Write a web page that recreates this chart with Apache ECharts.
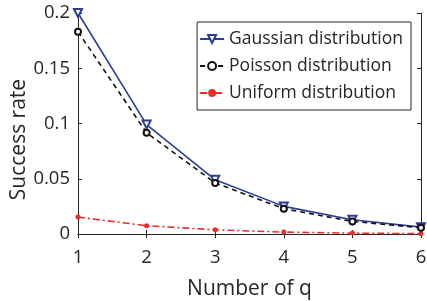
<!DOCTYPE html>
<html>
<head>
<meta charset="utf-8">
<script src="https://cdn.jsdelivr.net/npm/echarts@6/dist/echarts.min.js"></script>
<style>
  html, body { margin: 0; padding: 0; background: #fff; }
  #chart { width: 427px; height: 301px; }
</style>
</head>
<body>
<div id="chart"></div>
<script>
const qValues = [1, 2, 3, 4, 5, 6];
const gaussian = [0.2, 0.099, 0.049, 0.025, 0.0129, 0.0062];
const poisson = [0.183, 0.0916, 0.0462, 0.0229, 0.0114, 0.0056];
const uniform = [0.0153, 0.0075, 0.0038, 0.0017, 0.0008, 0.0003];

const font = 'Open Sans';
const axisColor = '#262626';

const pairs = arr => qValues.map((q, i) => [q, arr[i]]);

const myChart = echarts.init(document.getElementById('chart'));
const option = {
  animation: false,
  grid: { left: 78, right: 6, top: 13, bottom: 67, outerBoundsMode: 'none' },
  legend: {
    right: 16,
    top: 22,
    orient: 'vertical',
    itemWidth: 24,
    itemHeight: 10,
    itemGap: 9,
    padding: [8, 8, 8, 2],
    borderColor: axisColor,
    borderWidth: 1,
    backgroundColor: '#fff',
    textStyle: { fontFamily: font, fontSize: 17.5, color: axisColor },
    data: ['Gaussian distribution', 'Poisson distribution', 'Uniform distribution']
  },
  xAxis: [
    {
      type: 'value', min: 1, max: 6, interval: 1,
      name: 'Number of q', nameLocation: 'middle', nameGap: 45, nameMoveOverlap: false,
      nameTextStyle: { fontFamily: font, fontSize: 21, color: axisColor },
      axisLine: { lineStyle: { color: axisColor } },
      axisTick: { inside: true, length: 4, lineStyle: { color: axisColor } },
      axisLabel: { fontFamily: font, fontSize: 18.5, color: axisColor, margin: 14 },
      splitLine: { show: false }
    },
    {
      type: 'value', min: 1, max: 6, interval: 1, position: 'top',
      axisLine: { lineStyle: { color: axisColor } },
      axisTick: { inside: true, length: 4, lineStyle: { color: axisColor } },
      axisLabel: { show: false },
      splitLine: { show: false }
    }
  ],
  yAxis: [
    {
      type: 'value', min: 0, max: 0.2, interval: 0.05,
      name: 'Success rate', nameLocation: 'middle', nameGap: 48, nameMoveOverlap: false,
      nameTextStyle: { fontFamily: font, fontSize: 21, color: axisColor, padding: [0, 32, 0, 0] },
      axisLine: { show: true, lineStyle: { color: axisColor } },
      axisTick: { show: true, inside: true, length: 4, lineStyle: { color: axisColor } },
      axisLabel: { fontFamily: font, fontSize: 18.5, color: axisColor, margin: 8 },
      splitLine: { show: false }
    },
    {
      type: 'value', min: 0, max: 0.2, interval: 0.05, position: 'right',
      axisLine: { show: true, lineStyle: { color: axisColor } },
      axisTick: { show: true, inside: true, length: 4, lineStyle: { color: axisColor } },
      axisLabel: { show: false },
      splitLine: { show: false }
    }
  ],
  series: [
    {
      name: 'Gaussian distribution',
      type: 'line',
      data: pairs(gaussian),
      symbol: 'emptyTriangle',
      symbolRotate: 180,
      symbolSize: 8,
      lineStyle: { color: '#2a3d96', width: 1.6 },
      itemStyle: { color: '#2a3d96', borderWidth: 1.6 },
      z: 3
    },
    {
      name: 'Poisson distribution',
      type: 'line',
      data: pairs(poisson),
      symbol: 'emptyCircle',
      symbolSize: 6,
      lineStyle: { color: '#111', width: 1.6, type: [5, 4] },
      itemStyle: { color: '#111', borderWidth: 1.5 },
      z: 4
    },
    {
      name: 'Uniform distribution',
      type: 'line',
      data: pairs(uniform),
      symbol: 'circle',
      symbolSize: 5,
      lineStyle: { color: '#ee2b2b', width: 1.6, type: [7, 3, 2, 3] },
      itemStyle: { color: '#ee2b2b' },
      z: 2
    }
  ]
};
myChart.setOption(option);
</script>
</body>
</html>
